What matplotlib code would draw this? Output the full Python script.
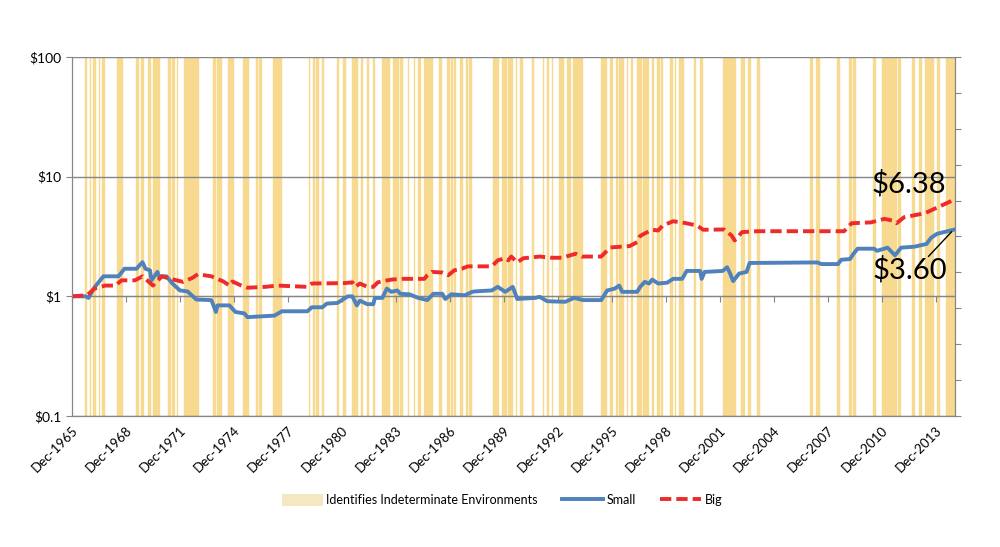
import numpy as np
import matplotlib
matplotlib.use('Agg')
import matplotlib.pyplot as plt
from matplotlib.lines import Line2D
from matplotlib.patches import Patch

plt.rcParams['font.family'] = ['Lato', 'DejaVu Sans']

# months counted from Dec-1965
n_months = 589
tick_months = list(range(0, 577, 36))
tick_labels = [f"Dec-{y}" for y in range(1965, 2014, 3)]

# growth of $1, small-cap strategy
small_month = [0, 9, 11, 15, 21, 31, 35, 43, 47, 49, 52, 53, 57, 58, 63, 67, 72, 77, 83, 93,
               96, 97, 105, 109, 115, 117, 135, 140, 157, 160, 167, 170, 177, 180, 184, 187,
               190, 192, 197, 201, 202, 207, 210, 213, 217, 219, 225, 231, 237, 241, 247, 249,
               253, 262, 267, 269, 280, 284, 289, 294, 297, 309, 312, 317, 329, 335, 341, 353,
               357, 362, 365, 367, 377, 379, 382, 385, 387, 391, 397, 401, 407, 410, 419, 420,
               422, 434, 437, 439, 441, 445, 450, 452, 497, 500, 511, 513, 519, 521, 524, 535,
               537, 544, 549, 553, 562, 570, 573, 577, 588]
small_value = [1.00, 1.00, 0.97, 1.19, 1.47, 1.47, 1.70, 1.70, 1.93, 1.70, 1.65, 1.36, 1.60, 1.47,
               1.47, 1.28, 1.12, 1.10, 0.94, 0.93, 0.74, 0.84, 0.84, 0.74, 0.72, 0.67, 0.69, 0.75,
               0.75, 0.81, 0.81, 0.87, 0.88, 0.93, 1.00, 1.00, 0.84, 0.92, 0.86, 0.86, 0.97, 0.97,
               1.16, 1.09, 1.12, 1.05, 1.04, 0.97, 0.93, 1.05, 1.05, 0.95, 1.04, 1.02, 1.09, 1.10,
               1.12, 1.20, 1.09, 1.20, 0.95, 0.97, 0.99, 0.91, 0.90, 0.97, 0.93, 0.93, 1.12, 1.16,
               1.23, 1.09, 1.09, 1.20, 1.32, 1.28, 1.38, 1.28, 1.30, 1.40, 1.40, 1.63, 1.63, 1.40,
               1.60, 1.63, 1.75, 1.55, 1.34, 1.55, 1.60, 1.90, 1.92, 1.86, 1.86, 2.02, 2.05, 2.24,
               2.50, 2.50, 2.40, 2.55, 2.20, 2.55, 2.60, 2.74, 3.08, 3.33, 3.60]

# growth of $1, big-cap strategy
big_month = [0, 10, 15, 22, 29, 33, 42, 47, 51, 54, 60, 64, 74, 80, 84, 93, 101, 105, 107, 113,
             117, 129, 137, 157, 160, 182, 187, 189, 192, 197, 201, 204, 213, 220, 235, 237, 240,
             247, 251, 255, 260, 264, 280, 284, 289, 291, 293, 297, 301, 312, 320, 327, 336, 340,
             353, 359, 372, 377, 379, 382, 387, 391, 394, 401, 409, 413, 417, 421, 435, 440, 442,
             447, 457, 515, 520, 533, 542, 547, 550, 555, 569, 575, 588]
big_value = [1.00, 1.02, 1.16, 1.23, 1.23, 1.36, 1.36, 1.47, 1.33, 1.23, 1.47, 1.42, 1.32, 1.42,
             1.53, 1.47, 1.33, 1.23, 1.33, 1.23, 1.18, 1.20, 1.23, 1.20, 1.28, 1.29, 1.31, 1.20,
             1.28, 1.20, 1.20, 1.31, 1.38, 1.40, 1.40, 1.50, 1.60, 1.58, 1.50, 1.65, 1.70, 1.78,
             1.78, 2.00, 2.08, 2.00, 2.15, 1.92, 2.08, 2.15, 2.10, 2.10, 2.27, 2.15, 2.15, 2.56,
             2.63, 2.84, 3.20, 3.35, 3.60, 3.55, 3.90, 4.24, 4.10, 4.00, 3.90, 3.60, 3.62, 3.22,
             2.93, 3.44, 3.50, 3.50, 4.08, 4.15, 4.44, 4.30, 4.08, 4.58, 4.95, 5.37, 6.38]

# indeterminate environment periods: first month and number of months
indet_start = [9, 12, 14, 18, 20, 30, 43, 46, 51, 54, 64, 67, 70, 75, 94, 97, 104, 114, 123, 125,
               134, 158, 161, 163, 167, 177, 181, 187, 193, 197, 201, 207, 214, 219, 224, 228,
               231, 235, 245, 250, 253, 255, 259, 263, 265, 281, 287, 291, 296, 299, 307, 314,
               317, 320, 325, 330, 334, 337, 353, 359, 363, 365, 370, 373, 377, 381, 387, 390,
               393, 399, 402, 405, 415, 419, 434, 437, 446, 451, 457, 492, 496, 510, 518, 521,
               534, 540, 551, 560, 565, 569, 577, 583]
indet_len = [1, 1, 2, 1, 2, 4, 2, 2, 2, 5, 2, 2, 1, 10, 2, 3, 4, 4, 1, 2,
             6, 1, 1, 2, 1, 1, 2, 4, 1, 1, 1, 5, 4, 2, 1, 1,
             2, 6, 2, 2, 1, 1, 2, 1, 2, 4, 3, 3, 1, 2, 1, 1,
             1, 1, 3, 3, 3, 4, 4, 2, 1, 3, 1, 1, 3, 4, 1, 2,
             1, 2, 1, 3, 1, 2, 3, 6, 3, 2, 2, 2, 3, 2, 2, 2,
             2, 10, 2, 2, 2, 6, 2, 6]

indicator = np.zeros(n_months)
for s, n in zip(indet_start, indet_len):
    indicator[s:s + n] = 1
bar_months = np.nonzero(indicator)[0]

bar_color = '#F7DA8F'
axis_color = '#868686'
small_color = '#4F81BD'
big_color = '#EE2A2A'
big_dash = (0, (2.9, 1.3))

fig = plt.figure(figsize=(10, 5.47), dpi=100)
ax = fig.add_axes([0.072, 0.2395, 0.883, 0.6563])
ax2 = ax.twinx()

# yellow bars on the secondary axis, behind the lines
ax2.bar(bar_months, indicator[bar_months], width=1.0, align='edge',
        color=bar_color, edgecolor=bar_color, linewidth=0.3)
ax2.set_ylim(0, 1)
ax2.set_yticks(np.arange(0, 1.01, 0.1))
ax2.set_yticklabels([])
ax2.tick_params(axis='y', direction='out', length=4, color=axis_color)
ax.set_zorder(ax2.get_zorder() + 1)
ax.patch.set_visible(False)

ax.plot(small_month, small_value, color=small_color, lw=2.8, solid_joinstyle='round')
ax.plot(big_month, big_value, color=big_color, lw=2.8, linestyle=big_dash)

ax.set_yscale('log')
ax.set_ylim(0.1, 100)
ax.set_xlim(0, n_months)
ax.set_yticks([0.1, 1, 10, 100])
ax.set_yticklabels(['$0.1', '$1', '$10', '$100'])
ax.yaxis.set_minor_locator(matplotlib.ticker.NullLocator())
ax.tick_params(axis='y', direction='out', length=4, color=axis_color, labelsize=10)
ax.grid(axis='y', which='major', color=axis_color, lw=1)

ax.set_xticks(tick_months)
ax.set_xticklabels(tick_labels, rotation=45, ha='right', va='top', rotation_mode='anchor')
ax.tick_params(axis='x', length=0, labelsize=9.5, pad=6)

# horizontal axis crosses at $1
sec = ax.secondary_xaxis(1 / 3)
sec.set_xticks(tick_months)
sec.set_xticklabels([])
sec.tick_params(axis='x', direction='out', length=4, color=axis_color)
sec.spines['bottom'].set_color(axis_color)

for a in (ax, ax2):
    for sp in a.spines.values():
        sp.set_color(axis_color)
ax.spines['top'].set_visible(False)
ax2.spines['top'].set_visible(False)

# end values
ax.text(558, 8.75, '$6.38', fontsize=21, ha='center', va='center')
ax.text(559, 1.68, '$3.60', fontsize=21, ha='center', va='center')
ax.annotate('', xy=(small_month[-1], small_value[-1]), xytext=(570, 2.07),
            arrowprops=dict(arrowstyle='-', color='black', lw=1))

handles = [Patch(facecolor='#F4E8C2', edgecolor='none'),
           Line2D([], [], color=small_color, lw=2.8),
           Line2D([], [], color=big_color, lw=2.8, linestyle=big_dash)]
labels = ['Identifies Indeterminate Environments', 'Small', 'Big']
fig.legend(handles, labels, loc='center', bbox_to_anchor=(0.502, 0.086), ncol=3,
           frameon=False, fontsize=9, handlelength=3.3, handleheight=1.2,
           columnspacing=1.9, handletextpad=0.3)

fig.savefig('out.png', dpi=100)
